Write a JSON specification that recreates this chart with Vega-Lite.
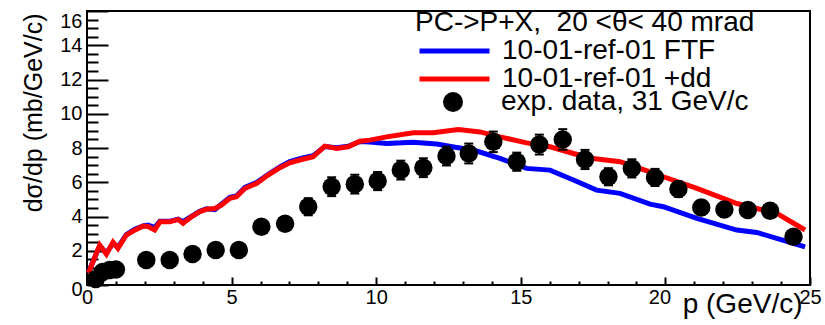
{
  "$schema": "https://vega.github.io/schema/vega-lite/v6.json",
  "width": 723,
  "height": 274,
  "autosize": {"type": "none"},
  "padding": {"left": 87, "top": 11, "right": 15, "bottom": 40},
  "background": "white",
  "config": {
    "font": "Liberation Sans",
    "view": {"stroke": "black", "strokeWidth": 2},
    "axis": {"grid": false, "domain": false, "labelColor": "black", "tickColor": "black", "titleColor": "black", "titleFontWeight": "normal", "labelFont": "Liberation Sans", "titleFont": "Liberation Sans"},
    "legend": {"labelFont": "Liberation Sans", "titleFont": "Liberation Sans", "labelColor": "black", "titleColor": "black"}
  },
  "datasets": {
    "ftf": [
      {"p": 0.05, "y": 0.75, "model": "10-01-ref-01 FTF"},
      {"p": 0.44, "y": 2.3, "model": "10-01-ref-01 FTF"},
      {"p": 0.67, "y": 1.85, "model": "10-01-ref-01 FTF"},
      {"p": 0.9, "y": 2.45, "model": "10-01-ref-01 FTF"},
      {"p": 1.07, "y": 2.2, "model": "10-01-ref-01 FTF"},
      {"p": 1.36, "y": 2.95, "model": "10-01-ref-01 FTF"},
      {"p": 1.65, "y": 3.25, "model": "10-01-ref-01 FTF"},
      {"p": 1.94, "y": 3.45, "model": "10-01-ref-01 FTF"},
      {"p": 2.11, "y": 3.5, "model": "10-01-ref-01 FTF"},
      {"p": 2.34, "y": 3.35, "model": "10-01-ref-01 FTF"},
      {"p": 2.52, "y": 3.72, "model": "10-01-ref-01 FTF"},
      {"p": 2.86, "y": 3.72, "model": "10-01-ref-01 FTF"},
      {"p": 3.15, "y": 3.85, "model": "10-01-ref-01 FTF"},
      {"p": 3.32, "y": 3.7, "model": "10-01-ref-01 FTF"},
      {"p": 3.61, "y": 4.0, "model": "10-01-ref-01 FTF"},
      {"p": 3.9, "y": 4.3, "model": "10-01-ref-01 FTF"},
      {"p": 4.13, "y": 4.45, "model": "10-01-ref-01 FTF"},
      {"p": 4.42, "y": 4.4, "model": "10-01-ref-01 FTF"},
      {"p": 4.65, "y": 4.72, "model": "10-01-ref-01 FTF"},
      {"p": 4.94, "y": 5.12, "model": "10-01-ref-01 FTF"},
      {"p": 5.17, "y": 5.2, "model": "10-01-ref-01 FTF"},
      {"p": 5.46, "y": 5.7, "model": "10-01-ref-01 FTF"},
      {"p": 5.86, "y": 5.98, "model": "10-01-ref-01 FTF"},
      {"p": 6.26, "y": 6.45, "model": "10-01-ref-01 FTF"},
      {"p": 6.67, "y": 6.9, "model": "10-01-ref-01 FTF"},
      {"p": 7.01, "y": 7.2, "model": "10-01-ref-01 FTF"},
      {"p": 7.42, "y": 7.4, "model": "10-01-ref-01 FTF"},
      {"p": 7.82, "y": 7.55, "model": "10-01-ref-01 FTF"},
      {"p": 8.22, "y": 8.08, "model": "10-01-ref-01 FTF"},
      {"p": 8.63, "y": 8.02, "model": "10-01-ref-01 FTF"},
      {"p": 9.03, "y": 8.1, "model": "10-01-ref-01 FTF"},
      {"p": 9.44, "y": 8.38, "model": "10-01-ref-01 FTF"},
      {"p": 9.78, "y": 8.35, "model": "10-01-ref-01 FTF"},
      {"p": 10.36, "y": 8.27, "model": "10-01-ref-01 FTF"},
      {"p": 11.28, "y": 8.33, "model": "10-01-ref-01 FTF"},
      {"p": 12.09, "y": 8.23, "model": "10-01-ref-01 FTF"},
      {"p": 12.78, "y": 8.03, "model": "10-01-ref-01 FTF"},
      {"p": 13.36, "y": 7.88, "model": "10-01-ref-01 FTF"},
      {"p": 14.28, "y": 7.39, "model": "10-01-ref-01 FTF"},
      {"p": 15.2, "y": 6.81, "model": "10-01-ref-01 FTF"},
      {"p": 16.01, "y": 6.71, "model": "10-01-ref-01 FTF"},
      {"p": 16.82, "y": 6.13, "model": "10-01-ref-01 FTF"},
      {"p": 17.62, "y": 5.54, "model": "10-01-ref-01 FTF"},
      {"p": 18.43, "y": 5.35, "model": "10-01-ref-01 FTF"},
      {"p": 19.47, "y": 4.72, "model": "10-01-ref-01 FTF"},
      {"p": 19.93, "y": 4.57, "model": "10-01-ref-01 FTF"},
      {"p": 21.09, "y": 3.89, "model": "10-01-ref-01 FTF"},
      {"p": 22.47, "y": 3.21, "model": "10-01-ref-01 FTF"},
      {"p": 23.16, "y": 3.07, "model": "10-01-ref-01 FTF"},
      {"p": 23.85, "y": 2.72, "model": "10-01-ref-01 FTF"},
      {"p": 24.83, "y": 2.23, "model": "10-01-ref-01 FTF"}
    ],
    "dd": [
      {"p": 0.05, "y": 0.7, "model": "10-01-ref-01 +dd"},
      {"p": 0.44, "y": 2.33, "model": "10-01-ref-01 +dd"},
      {"p": 0.67, "y": 1.8, "model": "10-01-ref-01 +dd"},
      {"p": 0.9, "y": 2.5, "model": "10-01-ref-01 +dd"},
      {"p": 1.07, "y": 2.14, "model": "10-01-ref-01 +dd"},
      {"p": 1.36, "y": 2.92, "model": "10-01-ref-01 +dd"},
      {"p": 1.65, "y": 3.2, "model": "10-01-ref-01 +dd"},
      {"p": 1.94, "y": 3.44, "model": "10-01-ref-01 +dd"},
      {"p": 2.11, "y": 3.42, "model": "10-01-ref-01 +dd"},
      {"p": 2.34, "y": 3.21, "model": "10-01-ref-01 +dd"},
      {"p": 2.52, "y": 3.69, "model": "10-01-ref-01 +dd"},
      {"p": 2.86, "y": 3.69, "model": "10-01-ref-01 +dd"},
      {"p": 3.15, "y": 3.83, "model": "10-01-ref-01 +dd"},
      {"p": 3.32, "y": 3.6, "model": "10-01-ref-01 +dd"},
      {"p": 3.61, "y": 3.98, "model": "10-01-ref-01 +dd"},
      {"p": 3.9, "y": 4.28, "model": "10-01-ref-01 +dd"},
      {"p": 4.13, "y": 4.43, "model": "10-01-ref-01 +dd"},
      {"p": 4.42, "y": 4.47, "model": "10-01-ref-01 +dd"},
      {"p": 4.65, "y": 4.67, "model": "10-01-ref-01 +dd"},
      {"p": 4.94, "y": 5.06, "model": "10-01-ref-01 +dd"},
      {"p": 5.17, "y": 5.15, "model": "10-01-ref-01 +dd"},
      {"p": 5.46, "y": 5.64, "model": "10-01-ref-01 +dd"},
      {"p": 5.86, "y": 5.93, "model": "10-01-ref-01 +dd"},
      {"p": 6.26, "y": 6.42, "model": "10-01-ref-01 +dd"},
      {"p": 6.67, "y": 6.85, "model": "10-01-ref-01 +dd"},
      {"p": 7.01, "y": 7.14, "model": "10-01-ref-01 +dd"},
      {"p": 7.42, "y": 7.33, "model": "10-01-ref-01 +dd"},
      {"p": 7.82, "y": 7.49, "model": "10-01-ref-01 +dd"},
      {"p": 8.22, "y": 8.11, "model": "10-01-ref-01 +dd"},
      {"p": 8.63, "y": 7.97, "model": "10-01-ref-01 +dd"},
      {"p": 9.03, "y": 8.07, "model": "10-01-ref-01 +dd"},
      {"p": 9.44, "y": 8.4, "model": "10-01-ref-01 +dd"},
      {"p": 9.78, "y": 8.46, "model": "10-01-ref-01 +dd"},
      {"p": 10.36, "y": 8.65, "model": "10-01-ref-01 +dd"},
      {"p": 11.28, "y": 8.89, "model": "10-01-ref-01 +dd"},
      {"p": 11.97, "y": 8.89, "model": "10-01-ref-01 +dd"},
      {"p": 12.84, "y": 9.08, "model": "10-01-ref-01 +dd"},
      {"p": 13.59, "y": 8.94, "model": "10-01-ref-01 +dd"},
      {"p": 14.28, "y": 8.65, "model": "10-01-ref-01 +dd"},
      {"p": 15.2, "y": 8.3, "model": "10-01-ref-01 +dd"},
      {"p": 16.01, "y": 8.07, "model": "10-01-ref-01 +dd"},
      {"p": 16.82, "y": 7.68, "model": "10-01-ref-01 +dd"},
      {"p": 17.51, "y": 7.39, "model": "10-01-ref-01 +dd"},
      {"p": 18.43, "y": 7.2, "model": "10-01-ref-01 +dd"},
      {"p": 19.47, "y": 6.61, "model": "10-01-ref-01 +dd"},
      {"p": 19.93, "y": 6.32, "model": "10-01-ref-01 +dd"},
      {"p": 21.09, "y": 5.64, "model": "10-01-ref-01 +dd"},
      {"p": 22.47, "y": 4.76, "model": "10-01-ref-01 +dd"},
      {"p": 23.16, "y": 4.47, "model": "10-01-ref-01 +dd"},
      {"p": 23.85, "y": 4.18, "model": "10-01-ref-01 +dd"},
      {"p": 24.83, "y": 3.21, "model": "10-01-ref-01 +dd"}
    ],
    "exp": [
      {"p": 0.3, "y": 0.35, "lo": 0.3, "hi": 0.4, "kind": "exp. data, 31 GeV/c"},
      {"p": 0.54, "y": 0.76, "lo": 0.68, "hi": 0.84, "kind": "exp. data, 31 GeV/c"},
      {"p": 0.78, "y": 0.88, "lo": 0.79, "hi": 0.97, "kind": "exp. data, 31 GeV/c"},
      {"p": 1.0, "y": 0.9, "lo": 0.8, "hi": 1.0, "kind": "exp. data, 31 GeV/c"},
      {"p": 2.05, "y": 1.46, "lo": 1.31, "hi": 1.61, "kind": "exp. data, 31 GeV/c"},
      {"p": 2.86, "y": 1.46, "lo": 1.31, "hi": 1.61, "kind": "exp. data, 31 GeV/c"},
      {"p": 3.65, "y": 1.81, "lo": 1.63, "hi": 1.99, "kind": "exp. data, 31 GeV/c"},
      {"p": 4.45, "y": 2.04, "lo": 1.84, "hi": 2.24, "kind": "exp. data, 31 GeV/c"},
      {"p": 5.25, "y": 2.04, "lo": 1.84, "hi": 2.24, "kind": "exp. data, 31 GeV/c"},
      {"p": 6.03, "y": 3.4, "lo": 3.1, "hi": 3.7, "kind": "exp. data, 31 GeV/c"},
      {"p": 6.85, "y": 3.58, "lo": 3.26, "hi": 3.9, "kind": "exp. data, 31 GeV/c"},
      {"p": 7.65, "y": 4.57, "lo": 4.07, "hi": 5.07, "kind": "exp. data, 31 GeV/c"},
      {"p": 8.46, "y": 5.74, "lo": 5.19, "hi": 6.29, "kind": "exp. data, 31 GeV/c"},
      {"p": 9.26, "y": 5.89, "lo": 5.34, "hi": 6.44, "kind": "exp. data, 31 GeV/c"},
      {"p": 10.05, "y": 6.07, "lo": 5.54, "hi": 6.6, "kind": "exp. data, 31 GeV/c"},
      {"p": 10.85, "y": 6.71, "lo": 6.16, "hi": 7.26, "kind": "exp. data, 31 GeV/c"},
      {"p": 11.63, "y": 6.85, "lo": 6.3, "hi": 7.4, "kind": "exp. data, 31 GeV/c"},
      {"p": 12.43, "y": 7.53, "lo": 6.98, "hi": 8.08, "kind": "exp. data, 31 GeV/c"},
      {"p": 13.2, "y": 7.68, "lo": 7.1, "hi": 8.26, "kind": "exp. data, 31 GeV/c"},
      {"p": 14.05, "y": 8.36, "lo": 7.76, "hi": 8.96, "kind": "exp. data, 31 GeV/c"},
      {"p": 14.86, "y": 7.2, "lo": 6.67, "hi": 7.73, "kind": "exp. data, 31 GeV/c"},
      {"p": 15.64, "y": 8.2, "lo": 7.62, "hi": 8.78, "kind": "exp. data, 31 GeV/c"},
      {"p": 16.45, "y": 8.5, "lo": 7.9, "hi": 9.1, "kind": "exp. data, 31 GeV/c"},
      {"p": 17.22, "y": 7.33, "lo": 6.77, "hi": 7.89, "kind": "exp. data, 31 GeV/c"},
      {"p": 18.03, "y": 6.32, "lo": 5.82, "hi": 6.82, "kind": "exp. data, 31 GeV/c"},
      {"p": 18.84, "y": 6.81, "lo": 6.28, "hi": 7.34, "kind": "exp. data, 31 GeV/c"},
      {"p": 19.64, "y": 6.28, "lo": 5.78, "hi": 6.78, "kind": "exp. data, 31 GeV/c"},
      {"p": 20.45, "y": 5.6, "lo": 5.15, "hi": 6.05, "kind": "exp. data, 31 GeV/c"},
      {"p": 21.24, "y": 4.53, "lo": 4.13, "hi": 4.93, "kind": "exp. data, 31 GeV/c"},
      {"p": 22.04, "y": 4.41, "lo": 4.01, "hi": 4.81, "kind": "exp. data, 31 GeV/c"},
      {"p": 22.85, "y": 4.38, "lo": 3.98, "hi": 4.78, "kind": "exp. data, 31 GeV/c"},
      {"p": 23.62, "y": 4.34, "lo": 3.94, "hi": 4.74, "kind": "exp. data, 31 GeV/c"},
      {"p": 24.43, "y": 2.82, "lo": 2.52, "hi": 3.12, "kind": "exp. data, 31 GeV/c"}
    ]
  },
  "resolve": {"axis": {"x": "independent", "y": "independent"}},
  "layer": [
    {
      "data": {"name": "ftf"},
      "mark": {"type": "line", "strokeWidth": 5},
      "encoding": {
        "x": {"field": "p", "type": "quantitative", "scale": {"domain": [0, 25], "nice": false, "zero": false},
          "axis": {"orient": "bottom", "values": [0, 5, 10, 15, 20, 25], "ticks": false, "labelFontSize": 20, "labelPadding": 2, "labelFlush": false,
            "labelOffset": {"condition": {"test": "datum.value === 20", "value": -6}, "value": 0},
            "title": "p (GeV/c)", "titleFontSize": 28, "titleAlign": "right", "titleBaseline": "alphabetic", "titleX": 715, "titleY": 27}},
        "y": {"field": "y", "type": "quantitative", "scale": {"domain": [0, 16], "nice": false},
          "axis": {"orient": "left", "values": [0, 2, 4, 6, 8, 10, 12, 14, 16], "ticks": false, "labelFontSize": 20, "labelPadding": 5, "labelFlush": false,
            "labelBaseline": {"condition": {"test": "datum.value === 16", "value": "top"}, "value": "middle"},
            "labelOffset": {"condition": {"test": "datum.value === 0", "value": 4}, "value": 0},
            "title": "dσ/dp (mb/GeV/c)", "titleFontSize": 25, "titleAngle": -90, "titleAlign": "right", "titleBaseline": "middle", "titleX": -54, "titleY": 2}},
        "color": {"field": "model", "type": "nominal",
          "scale": {"domain": ["10-01-ref-01 FTF", "10-01-ref-01 +dd"], "range": ["#0000ff", "#ff0000"]},
          "legend": {"orient": "none", "legendX": 328, "legendY": -2, "padding": 0,
            "title": "PC->P+X,\u00a0 20 <θ< 40 mrad", "titleFontSize": 28, "titleFontWeight": "normal", "titlePadding": 0, "titleLimit": 600,
            "labelFontSize": 28, "labelOffset": 59, "labelLimit": 500,
            "symbolType": "M-1.9,0H12.1", "symbolSize": 100, "symbolStrokeWidth": 5, "rowPadding": -3}}
      }
    },
    {
      "data": {"name": "dd"},
      "mark": {"type": "line", "strokeWidth": 5},
      "encoding": {
        "x": {"field": "p", "type": "quantitative",
          "axis": {"orient": "bottom", "values": [0, 5, 10, 15, 20, 25], "labels": false, "tickSize": -8, "tickWidth": 2, "title": null}},
        "y": {"field": "y", "type": "quantitative",
          "axis": {"orient": "left", "values": [0, 2, 4, 6, 8, 10, 12, 14, 16], "labels": false, "tickSize": -21, "tickWidth": 2, "title": null}},
        "color": {"field": "model", "type": "nominal"}
      }
    },
    {
      "data": {"name": "exp"},
      "mark": {"type": "rule", "strokeWidth": 2, "color": "black"},
      "encoding": {
        "x": {"field": "p", "type": "quantitative", "axis": null},
        "y": {"field": "lo", "type": "quantitative", "axis": null},
        "y2": {"field": "hi"}
      }
    },
    {
      "data": {"name": "exp"},
      "transform": [{"fold": ["lo", "hi"], "as": ["end", "val"]}],
      "mark": {"type": "tick", "orient": "horizontal", "size": 9, "thickness": 2, "color": "black", "opacity": 1},
      "encoding": {
        "x": {"field": "p", "type": "quantitative", "axis": null},
        "y": {"field": "val", "type": "quantitative", "axis": null}
      }
    },
    {
      "data": {"name": "exp"},
      "mark": {"type": "point", "filled": true, "size": 340, "opacity": 1, "color": "black"},
      "encoding": {
        "x": {"field": "p", "type": "quantitative",
          "axis": {"orient": "bottom", "values": [1, 2, 3, 4, 6, 7, 8, 9, 11, 12, 13, 14, 16, 17, 18, 19, 21, 22, 23, 24], "labels": false, "tickSize": -4, "tickWidth": 2, "title": null}},
        "y": {"field": "y", "type": "quantitative",
          "axis": {"orient": "left", "values": [0.5, 1, 1.5, 2.5, 3, 3.5, 4.5, 5, 5.5, 6.5, 7, 7.5, 8.5, 9, 9.5, 10.5, 11, 11.5, 12.5, 13, 13.5, 14.5, 15, 15.5], "labels": false, "tickSize": -11, "tickWidth": 2, "title": null}},
        "shape": {"field": "kind", "type": "nominal", "scale": {"range": ["circle"]},
          "legend": {"orient": "none", "legendX": 352, "legendY": 77, "padding": 0, "title": null,
            "labelFontSize": 28, "labelOffset": 34, "labelLimit": 500,
            "symbolSize": 400, "symbolFillColor": "black", "symbolStrokeColor": "black", "symbolStrokeWidth": 0}}
      }
    }
  ]
}
